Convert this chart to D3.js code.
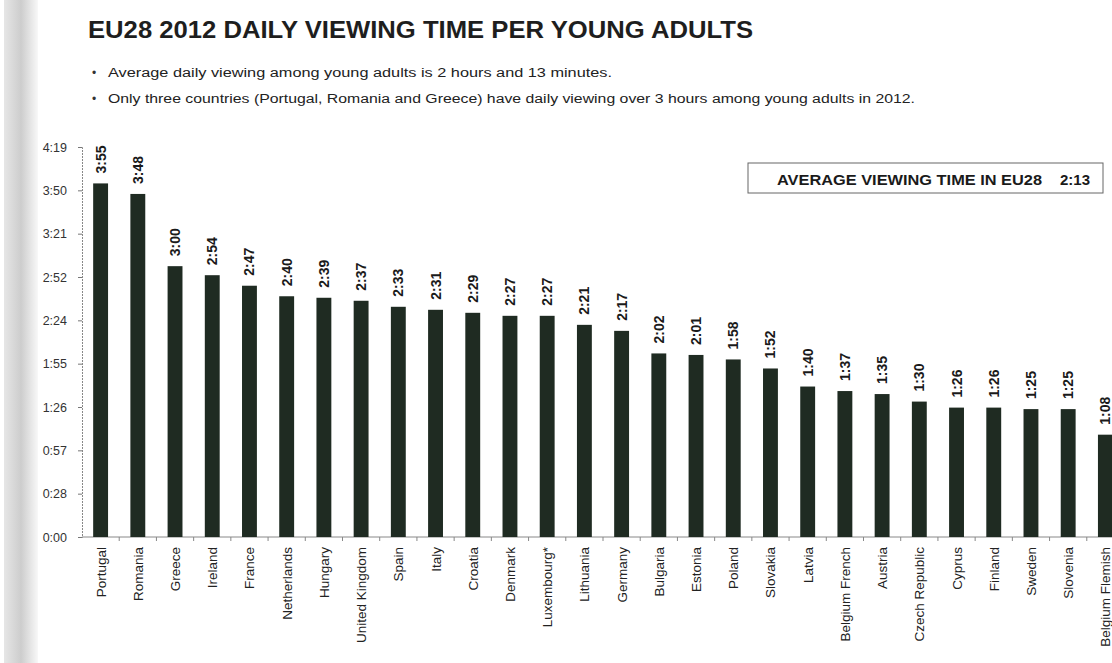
<!DOCTYPE html>
<html><head><meta charset="utf-8">
<script src="https://cdn.jsdelivr.net/npm/d3@7"></script>
<style>
html,body{margin:0;padding:0;background:#fff;}
svg{display:block;font-family:"Liberation Sans",Arial,sans-serif;}
</style></head>
<body><svg id="c" width="1112" height="663"></svg>
<script>
const countries = ["Portugal","Romania","Greece","Ireland","France","Netherlands","Hungary","United Kingdom","Spain","Italy","Croatia","Denmark","Luxembourg*","Lithuania","Germany","Bulgaria","Estonia","Poland","Slovakia","Latvia","Belgium French","Austria","Czech Republic","Cyprus","Finland","Sweden","Slovenia","Belgium Flemish"];
const minutes = [235,228,180,174,167,160,159,157,153,151,149,147,147,141,137,122,121,118,112,100,97,95,90,86,86,85,85,68];
const yTickValues = [0,28.8,57.6,86.4,115.2,144,172.8,201.6,230.4,259.2];
const yTickLabels = ["0:00","0:28","0:57","1:26","1:55","2:24","2:52","3:21","3:50","4:19"];
const title = "EU28 2012 DAILY VIEWING TIME PER YOUNG ADULTS";
const bullets = ["Average daily viewing among young adults is 2 hours and 13 minutes.",
 "Only three countries (Portugal, Romania and Greece) have daily viewing over 3 hours among young adults in 2012."];
const averageLabel = "AVERAGE VIEWING TIME IN EU28";
const averageValue = "2:13";

const fmt = m => Math.floor(m/60) + ":" + String(Math.floor(m%60)).padStart(2,"0");

const svg = d3.select("#c");
const defs = svg.append("defs");
const g = defs.append("linearGradient").attr("id","edge").attr("x1",0).attr("x2",1);
g.append("stop").attr("offset",0).attr("stop-color","#e6e6e6");
g.append("stop").attr("offset",0.5).attr("stop-color","#cdcdcd");
g.append("stop").attr("offset",1).attr("stop-color","#f8f8f8");
svg.append("rect").attr("x",4).attr("y",0).attr("width",34).attr("height",663).attr("fill","url(#edge)");

// title & bullets
svg.append("text").attr("x",88).attr("y",38).attr("font-size",23).attr("font-weight","bold")
  .attr("fill","#1e1e1e").attr("textLength",665).attr("lengthAdjust","spacingAndGlyphs").text(title);
const bulletEnds = [612, 915];
bullets.forEach((b,i)=>{
  const y = 77 + i*26;
  svg.append("text").attr("x",92).attr("y",y).attr("font-size",12).attr("fill","#333").text("•");
  svg.append("text").attr("x",108).attr("y",y).attr("font-size",12).attr("fill","#222")
    .attr("textLength",bulletEnds[i]-108).attr("lengthAdjust","spacingAndGlyphs").text(b);
});

// scales
const x = d3.scaleBand().domain(countries).range([82,1124]).paddingInner(0.6).paddingOuter(0.3);
const y = d3.scaleLinear().domain([0,259.2]).range([537,147]);

// y axis
const yAxis = d3.axisLeft(y).tickValues(yTickValues).tickFormat((d,i)=>yTickLabels[i]).tickSize(4).tickPadding(11);
const ya = svg.append("g").attr("transform","translate(82,0)").call(yAxis);
ya.select(".domain").attr("stroke","#888").attr("stroke-dasharray","2,1");
ya.selectAll(".tick line").attr("stroke","#777");
ya.selectAll(".tick text").attr("font-size",12.5).attr("fill","#333").attr("font-family","Liberation Sans, Arial, sans-serif");

// x axis
const xa = svg.append("g").attr("transform","translate(0,537)");
xa.append("line").attr("x1",82).attr("x2",1112).attr("stroke","#888");
const step = x.step();
xa.selectAll("line.tk").data(countries).enter().append("line").attr("class","tk")
  .attr("x1",d=>x(d)+x.bandwidth()/2+step/2).attr("x2",d=>x(d)+x.bandwidth()/2+step/2)
  .attr("y1",0).attr("y2",4).attr("stroke","#888");
xa.selectAll("text").data(countries).enter().append("text")
  .attr("transform",d=>`translate(${x(d)+x.bandwidth()/2+5},10) rotate(-90)`)
  .attr("text-anchor","end").attr("font-size",13.5).attr("fill","#222").text(d=>d);

// bars
svg.selectAll("rect.bar").data(minutes).enter().append("rect").attr("class","bar")
  .attr("x",(d,i)=>x(countries[i])).attr("width",x.bandwidth())
  .attr("y",d=>y(d)).attr("height",d=>y(0)-y(d)).attr("fill","#1f2b22");

// value labels
svg.selectAll("text.val").data(minutes).enter().append("text").attr("class","val")
  .attr("transform",(d,i)=>`translate(${x(countries[i])+x.bandwidth()/2+5},${y(d)-10}) rotate(-90)`)
  .attr("text-anchor","start").attr("font-size",14).attr("font-weight","bold").attr("fill","#1a1a1a")
  .text(d=>fmt(d));

// average box
svg.append("rect").attr("x",748).attr("y",163).attr("width",355).attr("height",30)
  .attr("fill","#fff").attr("stroke","#666").attr("stroke-width",1);
svg.append("text").attr("x",777).attr("y",185).attr("font-size",15).attr("font-weight","bold").attr("fill","#1a1a1a")
  .attr("textLength",265).attr("lengthAdjust","spacingAndGlyphs").text(averageLabel);
svg.append("text").attr("x",1090).attr("y",185).attr("text-anchor","end").attr("font-size",15).attr("font-weight","bold").attr("fill","#1a1a1a")
  .text(averageValue);
</script></body></html>
